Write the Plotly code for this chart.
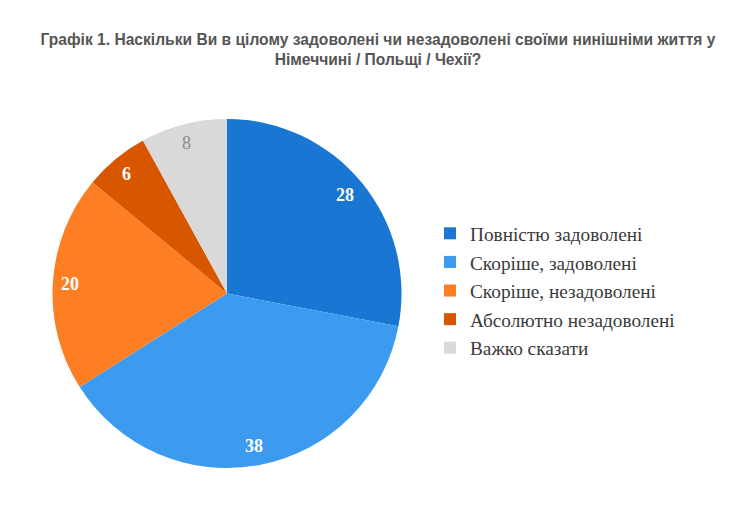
import math

import plotly.graph_objects as go

labels = [
    "Повністю задоволені",
    "Скоріше, задоволені",
    "Скоріше, незадоволені",
    "Абсолютно незадоволені",
    "Важко сказати",
]
values = [28, 38, 20, 6, 8]
colors = ["#1976D2", "#3D9BEF", "#FD7E23", "#D95600", "#D9D9D9"]
text_colors = ["white", "white", "white", "white", "#8a8a8a"]
bold = [True, True, True, True, False]

W, H = 740, 506
# pie centre and radius in px (figure coords)
cx, cy, r = 219, 285.5, 174.5

fig = go.Figure()
fig.add_pie(
    labels=[f"<span style='font-size:19.3px'>{s}</span>" for s in labels],
    values=values,
    sort=False,
    direction="clockwise",
    rotation=0,
    marker=dict(colors=colors, line=dict(width=0)),
    textinfo="none",
    domain=dict(
        x=[(cx - r) / W, (cx + r) / W],
        y=[(H - cy - r) / H, (H - cy + r) / H],
    ),
    hoverinfo="label+value",
)

# value labels sit near the rim, like the original
total = sum(values)
cum = 0
for v, col, b in zip(values, text_colors, bold):
    mid = (cum + v / 2) / total * 2 * math.pi
    cum += v
    rho = 0.89 * r
    px = cx - 2 + rho * math.sin(mid)
    py = cy - rho * math.cos(mid)
    fig.add_annotation(
        x=px / W,
        y=1 - py / H,
        xref="paper",
        yref="paper",
        xanchor="center",
        yanchor="middle",
        text=f"<b>{v}</b>" if b else str(v),
        showarrow=False,
        font=dict(family="Liberation Serif", size=18, color=col),
    )

fig.update_layout(
    width=W,
    height=H,
    margin=dict(l=0, r=0, t=0, b=0),
    paper_bgcolor="white",
    title=dict(
        text="<b>Графік 1. Наскільки Ви в цілому задоволені чи незадоволені своїми нинішніми життя у<br>Німеччині / Польщі / Чехії?</b>",
        x=0.5,
        xanchor="center",
        y=1 - 37 / H,
        yanchor="top",
        font=dict(family="Liberation Sans Narrow, Liberation Sans, Arial", size=15.6, color="#555555"),
    ),
    legend=dict(
        x=422 / W,
        y=1 - 206 / H,
        xanchor="left",
        yanchor="top",
        font=dict(family="Liberation Serif", size=19.7, color="#3a3a3a"),
    ),
)
fig.write_html("out.html")
